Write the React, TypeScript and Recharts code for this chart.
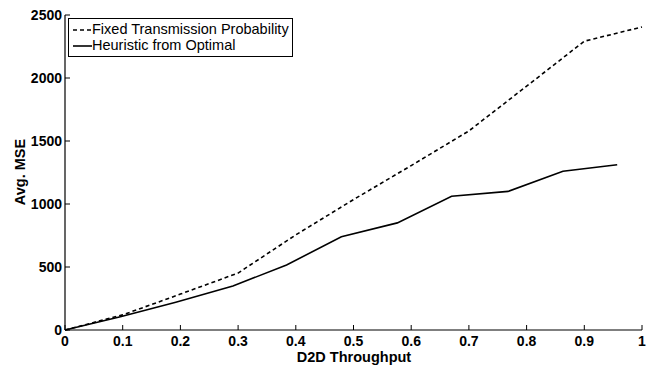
import React from 'react';
import { LineChart, Line, XAxis, YAxis } from 'recharts';

// Fixed Transmission Probability (dashed)
const fixedX = [0, 0.1, 0.2, 0.3, 0.4, 0.5, 0.6, 0.7, 0.8, 0.9, 1.0];
const fixedY = [0, 120, 285, 452, 755, 1035, 1305, 1580, 1935, 2292, 2405];

// Heuristic from Optimal (solid)
const heurX = [0, 0.096, 0.192, 0.291, 0.384, 0.479, 0.576, 0.67, 0.768, 0.863, 0.957];
const heurY = [0, 105, 220, 349, 516, 740, 850, 1062, 1100, 1260, 1312];

const xTicks = [0, 0.1, 0.2, 0.3, 0.4, 0.5, 0.6, 0.7, 0.8, 0.9, 1];
const yTicks = [0, 500, 1000, 1500, 2000, 2500];

const fixedData = fixedX.map((x, i) => ({ x, y: fixedY[i] }));
const heurData = heurX.map((x, i) => ({ x, y: heurY[i] }));

const FONT = 'Liberation Sans, Arial, Helvetica, sans-serif';

const XTick = (props: any) => {
  const { x, y, payload } = props;
  return (
    <g>
      <line x1={x} y1={y} x2={x} y2={y - 5} stroke="#000" strokeWidth={1} />
      <text x={x} y={y + 16} textAnchor="middle" fontFamily={FONT} fontWeight="bold" fontSize={14} fill="#000">
        {payload.value}
      </text>
    </g>
  );
};

const YTick = (props: any) => {
  const { x, y, payload } = props;
  return (
    <g>
      <line x1={x} y1={y} x2={x + 5} y2={y} stroke="#000" strokeWidth={1} />
      <text x={x - 3} y={y + 5} textAnchor="end" fontFamily={FONT} fontWeight="bold" fontSize={14} fill="#000">
        {payload.value}
      </text>
    </g>
  );
};

export default function App() {
  return (
    <div style={{ position: 'absolute', left: 0, top: 0, width: 654, height: 371, background: '#fff' }}>
      <LineChart width={654} height={371} margin={{ top: 15, right: 12, bottom: 0, left: 5 }}>
        <XAxis
          type="number"
          dataKey="x"
          domain={[0, 1]}
          ticks={xTicks}
          tick={<XTick />}
          tickLine={false}
          tickSize={0}
          tickMargin={0}
          height={41}
          axisLine={{ stroke: '#000', strokeWidth: 1.2 }}
          allowDuplicatedCategory={false}
        />
        <YAxis
          type="number"
          dataKey="y"
          domain={[0, 2500]}
          ticks={yTicks}
          tick={<YTick />}
          tickLine={false}
          tickSize={0}
          tickMargin={0}
          width={60}
          axisLine={{ stroke: '#000', strokeWidth: 1.2 }}
        />
        <Line
          data={fixedData}
          dataKey="y"
          stroke="#000"
          strokeWidth={1.6}
          strokeDasharray="4 3"
          dot={false}
          isAnimationActive={false}
        />
        <Line
          data={heurData}
          dataKey="y"
          stroke="#000"
          strokeWidth={1.6}
          dot={false}
          isAnimationActive={false}
        />
      </LineChart>

      {/* legend box */}
      <div
        style={{
          position: 'absolute',
          left: 68,
          top: 18,
          width: 223,
          height: 37,
          border: '1px solid #000',
          background: '#fff',
          fontFamily: FONT,
          fontSize: 14.5,
          color: '#000',
        }}
      >
        <svg width={22} height={37} style={{ position: 'absolute', left: 2, top: 0 }}>
          <line x1={2} y1={11} x2={21} y2={11} stroke="#000" strokeWidth={1.6} strokeDasharray="4 3" />
          <line x1={2} y1={27} x2={21} y2={27} stroke="#000" strokeWidth={1.6} />
        </svg>
        <div style={{ position: 'absolute', left: 23, top: 2, whiteSpace: 'nowrap', lineHeight: '17px' }}>
          Fixed Transmission Probability
        </div>
        <div style={{ position: 'absolute', left: 23, top: 18, whiteSpace: 'nowrap', lineHeight: '17px' }}>
          Heuristic from Optimal
        </div>
      </div>

      {/* axis titles */}
      <div
        style={{
          position: 'absolute',
          left: 254,
          top: 348,
          width: 200,
          textAlign: 'center',
          fontFamily: FONT,
          fontWeight: 'bold',
          fontSize: 14.5,
          lineHeight: '18px',
          color: '#000',
        }}
      >
        D2D Throughput
      </div>
      <div
        style={{
          position: 'absolute',
          left: 20,
          top: 172,
          width: 120,
          marginLeft: -60,
          marginTop: -9,
          textAlign: 'center',
          transform: 'rotate(-90deg)',
          fontFamily: FONT,
          fontWeight: 'bold',
          fontSize: 14.5,
          lineHeight: '18px',
          color: '#000',
        }}
      >
        Avg. MSE
      </div>
    </div>
  );
}
